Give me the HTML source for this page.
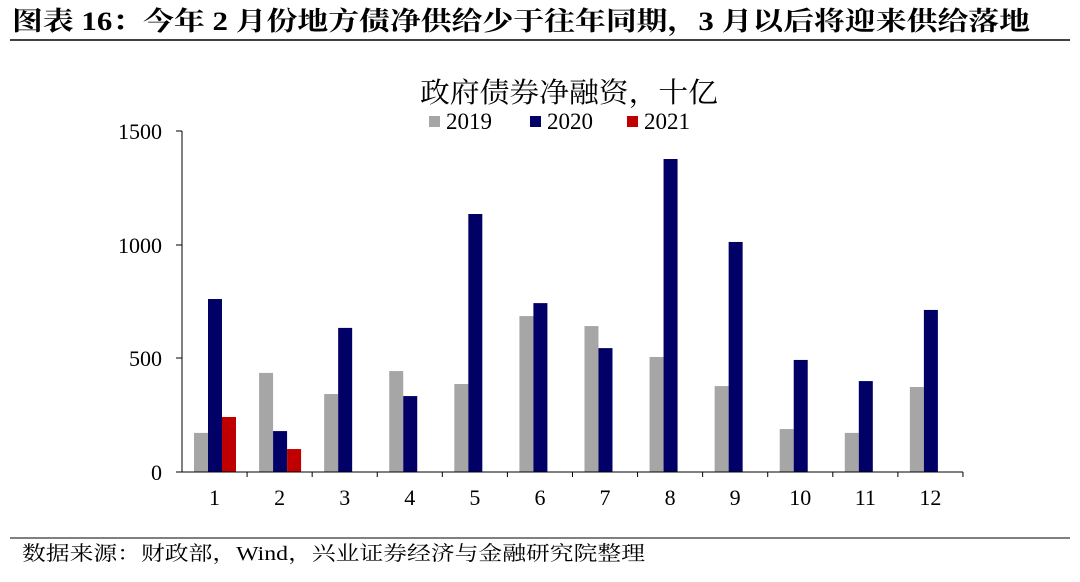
<!DOCTYPE html>
<html><head><meta charset="utf-8"><style>
body{margin:0;background:#fff;width:1080px;height:577px;overflow:hidden}
svg text{font-family:"Liberation Serif","Noto Serif CJK SC",serif}
</style></head><body>
<svg width="1080" height="577" xmlns="http://www.w3.org/2000/svg">
<text x="12" y="30" font-size="26" font-weight="bold" fill="#000" textLength="1018" lengthAdjust="spacingAndGlyphs">图表 16：今年 2 月份地方债净供给少于往年同期，3 月以后将迎来供给落地</text>
<line x1="10" y1="40" x2="1070" y2="40" stroke="#000" stroke-width="1.5"/>
<text x="420" y="102" font-size="28" textLength="298" lengthAdjust="spacingAndGlyphs">政府债券净融资，十亿</text>
<rect x="429" y="116" width="11" height="11" fill="#a6a6a6"/><text x="446" y="129" font-size="23">2019</text>
<rect x="530" y="116" width="11" height="11" fill="#000066"/><text x="547" y="129" font-size="23">2020</text>
<rect x="627" y="116" width="11" height="11" fill="#c00000"/><text x="644" y="129" font-size="23">2021</text>
<g font-size="22" text-anchor="end">
<text x="162" y="139">1500</text><text x="162" y="253">1000</text><text x="162" y="366">500</text><text x="162" y="480">0</text>
</g>
<line x1="182" y1="131" x2="182" y2="472" stroke="#000"/>
<g stroke="#000">
<line x1="176" y1="131" x2="182" y2="131"/><line x1="176" y1="245" x2="182" y2="245"/><line x1="176" y1="358" x2="182" y2="358"/><line x1="176" y1="472" x2="182" y2="472"/>
</g>
<g id="bars"></g>
<line x1="182" y1="472" x2="963" y2="472" stroke="#000"/>
<g id="lbl" font-size="22" text-anchor="middle"></g>
<line x1="10" y1="538" x2="1070" y2="538" stroke="#000" stroke-width="1"/>
<text x="22" y="560" font-size="20" textLength="623" lengthAdjust="spacingAndGlyphs">数据来源：财政部，Wind，兴业证券经济与金融研究院整理</text>
</svg>
<script>
var g=[172,436,343,444,387,686,642,506,378,189,172,374],n=[761,180,634,334,1135,743,545,1377,1012,493,400,713],r=[242,101];
var s='',l='',k=0.2273,w=65.08;
for(var i=0;i<12;i++){var x0=182+i*w+12;
s+='<rect x="'+x0+'" y="'+(472-g[i]*k)+'" width="14" height="'+g[i]*k+'" fill="#a6a6a6"/>';
s+='<rect x="'+(x0+14)+'" y="'+(472-n[i]*k)+'" width="14" height="'+n[i]*k+'" fill="#000066"/>';
if(i<2)s+='<rect x="'+(x0+28)+'" y="'+(472-r[i]*k)+'" width="14" height="'+r[i]*k+'" fill="#c00000"/>';
s+='<line x1="'+(182+(i+1)*w)+'" y1="472" x2="'+(182+(i+1)*w)+'" y2="477" stroke="#000"/>';
l+='<text x="'+(182+i*w+w/2)+'" y="505">'+(i+1)+'</text>';}
document.getElementById('bars').innerHTML=s;document.getElementById('lbl').innerHTML=l;
</script>
</body></html>
